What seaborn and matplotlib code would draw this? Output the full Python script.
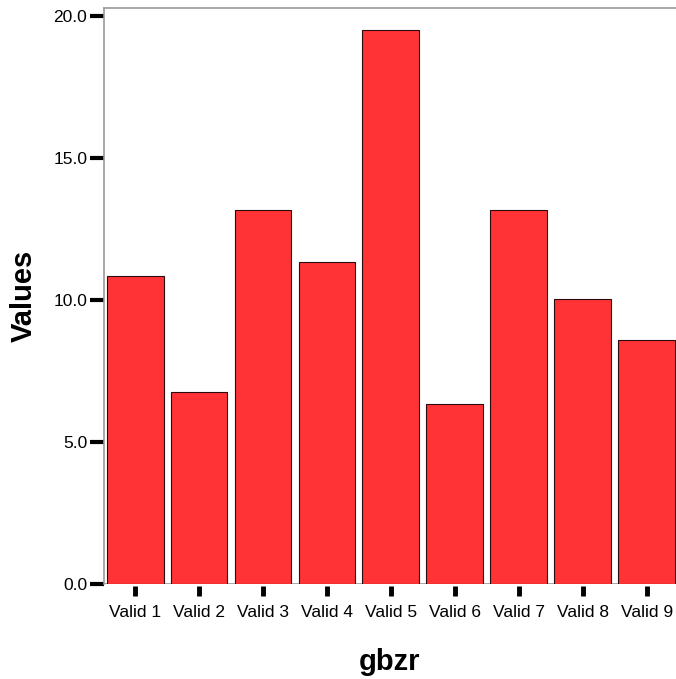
import matplotlib
matplotlib.use("Agg")
import matplotlib.pyplot as plt
from matplotlib import font_manager
import seaborn as sns
import pandas as pd

categories = ["Valid 1", "Valid 2", "Valid 3", "Valid 4", "Valid 5",
              "Valid 6", "Valid 7", "Valid 8", "Valid 9"]
values = [10.85, 6.76, 13.17, 11.34, 19.51, 6.34, 13.17, 10.04, 8.59]
y_ticks = [0.0, 5.0, 10.0, 15.0, 20.0]

sns.set_theme(style="white")
plt.rcParams['font.family'] = ['Liberation Sans', 'DejaVu Sans']
plt.rcParams['text.color'] = 'black'
plt.rcParams['xtick.color'] = 'black'
plt.rcParams['ytick.color'] = 'black'
plt.rcParams['axes.labelcolor'] = 'black'

# pick the regular (non-narrow) Liberation Sans Bold file for the axis titles
bold_font = None
for f in font_manager.findSystemFonts():
    if f.endswith("LiberationSans-Bold.ttf"):
        bold_font = font_manager.FontProperties(fname=f, size=21)
        break
if bold_font is None:
    bold_font = font_manager.FontProperties(family="DejaVu Sans", weight="bold", size=21)

df = pd.DataFrame({"gbzr": categories, "Values": values})

fig = plt.figure(figsize=(6.76, 6.79), dpi=100)
ax = fig.add_axes([104 / 676, 1 - 584 / 679, 1 - 104 / 676, (584 - 8) / 679])

sns.barplot(data=df, x="gbzr", y="Values", color="#ff3336", saturation=1,
            width=0.89, edgecolor="#2a0a0a", linewidth=0.8, ax=ax)

ax.set_xlim(-0.485, 8.455)
ax.set_ylim(0, 20.28)
ax.set_yticks(y_ticks)
ax.set_yticklabels([f"{t:.1f}" for t in y_ticks])

# frame
for s in ["top", "left", "right"]:
    ax.spines[s].set_color("#999999")
    ax.spines[s].set_linewidth(1.2)
ax.spines["right"].set_visible(False)
ax.spines["bottom"].set_visible(False)
ax.axhline(0, color="#999999", lw=1.2, zorder=0.5)

# x ticks detached from axis
ax.spines["bottom"].set_position(("outward", 1.5))
ax.tick_params(axis="x", bottom=True, direction="out", length=7.5, width=3.5,
               labelsize=12.5, pad=6)
ax.tick_params(axis="y", left=True, direction="out", length=10, width=3,
               labelsize=12.5, pad=2)

ax.set_xlabel("gbzr", fontproperties=bold_font, labelpad=20)
ax.set_ylabel("Values", fontproperties=bold_font, labelpad=11)

fig.savefig("out.png", dpi=100)
